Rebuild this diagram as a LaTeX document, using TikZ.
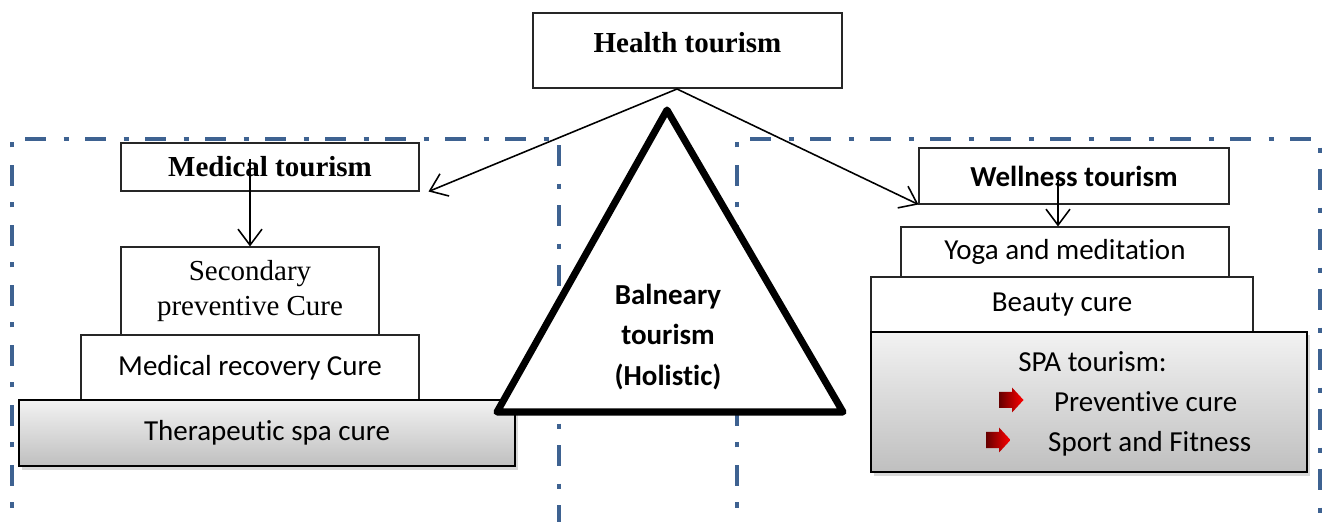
\documentclass[tikz,border=0pt]{standalone}
\usepackage{fontspec}
\setmainfont{Carlito}[Ligatures=NoCommon]
\newfontfamily\timesrm{Liberation Serif}
\usetikzlibrary{arrows.meta,shadows}
\definecolor{frameblue}{RGB}{62,98,145}
\tikzset{
	box/.style={draw=black!85, line width=0.6pt, fill=white, inner sep=0pt, align=center, font=\fontsize{16.5}{19.4}\selectfont},
	shadebox/.style={box, draw=black, line width=0.9pt, top color=gray!10, bottom color=gray!50, drop shadow={opacity=0.3, shadow xshift=0.05cm, shadow yshift=-0.07cm}},
	link/.style={line width=0.9pt, -{Straight Barb[length=3.2mm,width=4.8mm]}},
	frame/.style={draw=frameblue, line width=2.4pt, dash pattern=on 0.42cm off 0.35cm on 0.1cm off 0.33cm},
	redarrow/.style={left color=red!40!black, right color=red},
	txt/.style={font=\fontsize{16.5}{20}\selectfont}
}
\begin{document}
\begin{tikzpicture}
	\useasboundingbox (0,0) rectangle (26.5,10.42);
	\draw[frame] (0.24,-0.5) -- (0.24,7.64) -- (11.18,7.64) -- (11.18,-0.5);
	\draw[frame] (14.74,-0.5) -- (14.74,7.64) -- (26.4,7.64) -- (26.4,-0.5);
	\node[box, minimum width=6.18cm, minimum height=1.5cm] (health) at (13.75,9.41) {};
	\node[anchor=base, font=\timesrm\bfseries\fontsize{16.5}{20}\selectfont] (healthtxt) at (13.75,9.36) {Health tourism};
	\node[box, minimum width=5.96cm, minimum height=0.96cm, font=\timesrm\bfseries\fontsize{16.5}{20}\selectfont] (medical) at (5.40,7.08) {Medical tourism};
	\node[box, minimum width=5.16cm, minimum height=1.76cm, font=\timesrm\fontsize{16.5}{19.4}\selectfont] (secondary) at (5.0,4.60) {Secondary\\preventive Cure};
	\node[box, minimum width=6.76cm, minimum height=1.30cm] (recovery) at (5.0,3.07) {Medical recovery Cure};
	\node[shadebox, minimum width=9.92cm, minimum height=1.32cm] (therapeutic) at (5.34,1.76) {Therapeutic spa cure};
	\draw[line width=4pt, line join=round, fill=white] (13.34,8.22) -- (9.94,2.18) -- (16.86,2.18) -- cycle;
	\node[align=center, font=\bfseries\fontsize{16.5}{23.2}\selectfont] (balneary) at (13.36,3.68) {Balneary\\tourism\\(Holistic)};
	\node[box, minimum width=6.2cm, minimum height=1.12cm, font=\bfseries\fontsize{16.5}{20}\selectfont] (wellness) at (21.48,6.90) {Wellness tourism};
	\node[box, minimum width=6.56cm, minimum height=1.0cm] (yoga) at (21.30,5.38) {Yoga and meditation};
	\node[box, minimum width=7.64cm, minimum height=1.10cm] (beauty) at (21.24,4.33) {Beauty cure};
	\node[shadebox, minimum width=8.72cm, minimum height=2.80cm] (spa) at (21.78,2.38) {};
	\node[txt, anchor=base] (spatxt) at (21.85,2.98) {SPA tourism:};
	\shade[redarrow, shift={(20.22,2.42)}] (-0.24,-0.16) -- (0.02,-0.16) -- (0.02,-0.25) -- (0.25,0) -- (0.02,0.25) -- (0.02,0.16) -- (-0.24,0.16) -- cycle;
	\node[txt, anchor=base west] (preventive) at (20.96,2.18) {Preventive cure};
	\shade[redarrow, shift={(19.96,1.62)}] (-0.24,-0.16) -- (0.02,-0.16) -- (0.02,-0.25) -- (0.25,0) -- (0.02,0.25) -- (0.02,0.16) -- (-0.24,0.16) -- cycle;
	\node[txt, anchor=base west] (sport) at (20.84,1.38) {Sport and Fitness};
	\coordinate (split) at (13.54,8.64);
	\draw[link] (split) -- ([xshift=0.18cm]medical.south east);
	\draw[link] (split) -- (wellness.south west);
	\draw[link] ([yshift=-0.34cm]secondary.north |- medical.north) -- (secondary.north);
	\draw[link] ([xshift=-0.14cm,yshift=-0.08cm]yoga.north |- wellness.center) -- ([xshift=-0.14cm]yoga.north);
\end{tikzpicture}
\end{document}
